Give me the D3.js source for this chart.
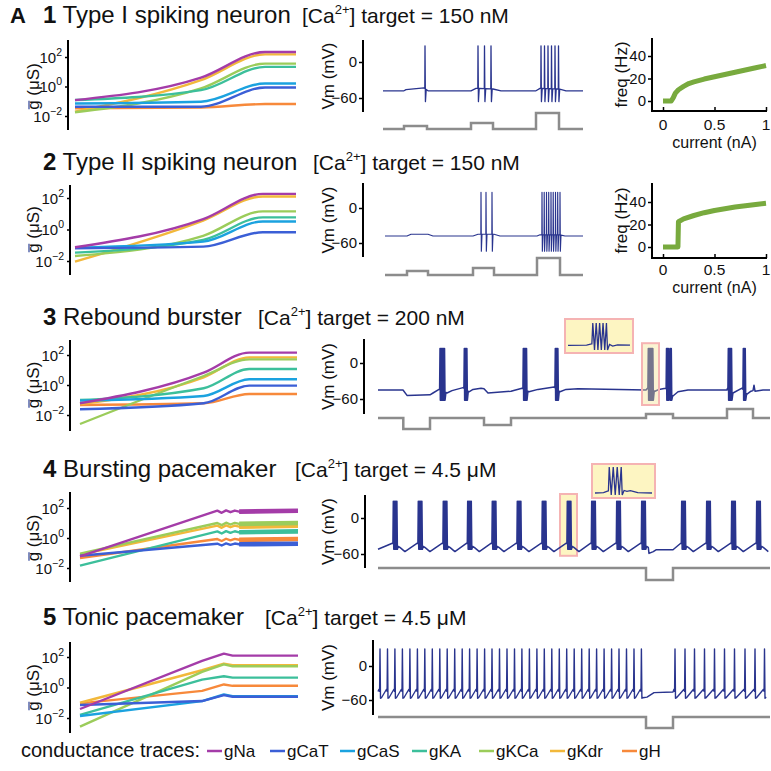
<!DOCTYPE html>
<html><head><meta charset="utf-8">
<script src="https://cdn.jsdelivr.net/npm/d3@7"></script>
<style>
body{margin:0;background:#fff}
svg{display:block}
text{font-family:"Liberation Sans",Arial,Helvetica,sans-serif;fill:#111}
</style>
</head><body>
<svg id="fig" width="771" height="771"></svg>
<script>
// ================= DATA =================
const channelNames  = ["gNa","gCaT","gCaS","gKA","gKCa","gKdr","gH"];
const channelColors = ["#a43ca8","#3b5fd6","#1ba2df","#3cbf9b","#9bcc5a","#f2b83b","#f7893b"];

const rowNumbers = ["1","2","3","4","5"];
const rowTitles  = ["Type I spiking neuron","Type II spiking neuron","Rebound burster","Bursting pacemaker","Tonic pacemaker"];
const caTargets  = ["150 nM","150 nM","200 nM","4.5 \u03bcM","4.5 \u03bcM"];

const condTickExps = [-2, 0, 2];
// conductance traces: time (% of run) and log10(g) per channel (order = channelNames), null = not shown
const cond1Time = [0, 57, 86, 100];
const cond1 = [
  [-0.92, 0.60, 2.34, 2.34],
  [-1.37,-1.37,-0.07,-0.07],
  [-1.15,-1.03, 0.20, 0.20],
  [-0.92,-0.25, 1.33, 1.33],
  [-1.75,-0.13, 1.55, 1.55],
  [-1.70, 0.43, 2.18, 2.18],
  [-1.48,-1.42,-1.19,-1.19]
];
const cond2Time = [0, 58, 85, 100];
const cond2 = [
  [-1.13, 0.66, 2.26, 2.26],
  [-1.19,-1.09,-0.17,-0.17],
  [-1.15,-0.77, 0.51, 0.51],
  [-1.47,-0.66, 0.77, 0.77],
  [-1.68,-0.40, 1.15, 1.15],
  [-2.04, 0.57, 2.10, 2.10],
  null
];
const cond3Time = [0, 57, 78, 100];
const cond3 = [
  [-1.22, 0.82, 2.16, 2.16],
  [-1.62,-1.22,-0.04,-0.04],
  [-1.04,-0.73, 0.38, 0.38],
  [-1.00,-0.22, 1.07, 1.07],
  [-2.60, 0.60, 1.71, 1.71],
  [-1.27, 0.51, 1.84, 1.84],
  [-1.33,-1.22,-0.60,-0.60]
];
const cond4Time = [0, 63, 65, 67, 69, 71, 73, 100];
const cond4 = [
  [-1.22, 1.82, 1.68, 1.84, 1.72, 1.83, 1.76, 1.82],
  [-1.18,-0.38,-0.50,-0.36,-0.46,-0.37,-0.42,-0.38],
  null,
  [-1.84, 0.44, 0.30, 0.46, 0.34, 0.45, 0.38, 0.44],
  [-1.04, 1.00, 0.86, 1.02, 0.90, 1.01, 0.94, 1.00],
  [-1.11, 0.82, 0.68, 0.84, 0.72, 0.83, 0.76, 0.82],
  [-1.33,-0.07,-0.20,-0.05,-0.16,-0.06,-0.12,-0.07]
];
const cond4Band = [73, 100];
const cond5Time = [0, 56, 66, 70, 100];
const cond5 = [
  [-1.41, 1.74, 2.22, 2.09, 2.09],
  [-1.15,-0.89,-0.50,-0.61,-0.61],
  [-1.87,-0.89,-0.46,-0.57,-0.57],
  [-1.80, 0.52, 0.74, 0.65, 0.65],
  [-2.57, 1.02, 1.52, 1.39, 1.39],
  [-1.00, 1.13, 1.57, 1.46, 1.46],
  [-1.04,-0.22, 0.20, 0.11, 0.11]
];

// membrane potential: time in s, voltage in mV
const vmTicks = [0, -60];
const vmDuration = [20, 19.8, 39.2, 39.2, 39.2];
const vmPeak   = [27, 27, 24, 28, 30];
const vmTrough = [-66, -74, -62, -52, -57];

const vmBase1 = [[0,-48],[2.1,-48],[2.3,-46],[4.1,-43],[4.5,-48],[8.8,-48],[9.3,-44],[11.0,-45],[11.8,-48],[15.3,-48],[15.7,-44],[17.6,-45],[18.3,-48],[20,-48]];
const vmSpikes1 = [4.2, 9.5, 10.15, 10.8, 15.8, 16.15, 16.5, 16.85, 17.2, 17.55];
const curSteps1 = [[2.1,4.4,0.10],[8.8,11.0,0.20],[15.3,17.6,0.53]];

const vmBase2 = [[0,-48],[2.2,-48],[2.6,-45],[4.3,-45],[4.8,-48],[8.8,-48],[9.3,-45],[10.9,-45],[11.5,-48],[15.2,-48],[15.5,-46],[17.5,-46],[18.0,-48],[19.8,-48]];
const vmSpikes2 = [9.6, 10.1, 10.7, 15.7, 15.92, 16.15, 16.37, 16.6, 16.82, 17.05, 17.27, 17.5];
const curSteps2 = [[2.2,4.3,0.13],[8.8,10.9,0.23],[15.2,17.5,0.57]];

const vmBase3 = [[0,-45],[2.5,-45],[2.9,-54],[5.2,-53],[5.5,-50],[6.1,-44],[6.9,-50],[7.4,-46],[8.5,-41],
  [9.1,-48],[9.5,-44],[10.3,-42],[10.6,-43],[11.0,-50],[13.3,-47],[14.4,-42],[15.1,-48],[16.0,-44],[17.6,-40],
  [18.2,-48],[18.8,-44],[20,-43],[26.8,-45],[26.95,-42],[27.7,-47],[28.1,-44],[28.75,-42],[29.5,-55],[30,-48],
  [31,-45],[34.9,-45],[34.95,-42],[35.5,-50],[36.4,-42],[36.9,-52],[37.3,-47],[37.5,-46],[37.6,-37],[37.7,-47],
  [38.5,-45],[39.2,-45]];
const vmBursts3 = [[6.2,8],[8.63,5],[14.53,6],[17.73,5],[27.03,8],[28.85,4],[29.2,3],[35.03,6],[36.53,4]];
const curSteps3 = [[2.53,5.2,-0.37],[10.6,13.3,-0.23],[26.8,29.5,0.13],[34.9,37.5,0.30]];
const highlight3 = [26.4, 28.1, 33, -70];

const vmBursts4 = [1.53, 4.03, 6.53, 8.97, 11.43, 13.93, 16.43, 18.93, 21.37, 23.87, 26.37, 30.37, 32.87, 35.37, 37.87];
const vmHold4 = [[27.1,-59],[27.8,-53],[29.5,-53]];
const curSteps4 = [[26.8,29.5,-0.40]];
const highlight4 = [18.2, 19.9, 40, -63];

const vmSpikes5 = [0.2,0.95,1.69,2.44,3.19,3.94,4.68,5.43,6.18,6.92,7.67,8.42,9.16,9.91,10.66,11.4,12.15,12.9,
  13.65,14.39,15.14,15.89,16.63,17.38,18.13,18.87,19.62,20.37,21.12,21.86,22.61,23.36,24.1,24.85,25.6,26.34,
  29.7,30.7,31.65,32.65,33.65,34.65,35.65,36.7,37.7,38.65];
const vmHold5 = [[26.9,-55],[27.6,-47],[29.5,-46]];
const curSteps5 = [[26.8,29.5,-0.37]];

// insets (time normalised 0..1 over the inset)
const inset3Base = [[0,-48],[0.3,-47],[0.38,-43],[0.66,-44],[0.72,-50],[0.8,-46],[1,-47]];
const inset3Spikes = [0.40, 0.455, 0.51, 0.565, 0.62];
const inset4Base = [[0,-52],[0.15,-51],[0.23,-46],[0.5,-44],[0.56,-47],[0.62,-45],[0.75,-51],[1,-52]];
const inset4Spikes = [0.25, 0.32, 0.39, 0.46];

// f-I curves
const fiTicksY = [0, 20, 40];
const fiTicksX = [0, 0.5, 1];
const fiCurrent1 = [0, 0.08, 0.10, 0.12, 0.15, 0.20, 0.25, 0.30, 0.40, 0.50, 0.60, 0.70, 0.80, 0.90, 1.00];
const fiFreq1    = [0, 0,    3,    7,    10,   13,   15.5, 17,   19.5, 21.5, 23.5, 25.5, 27.5, 29.5, 31.5];
const fiCurrent2 = [0, 0.145, 0.15, 0.20, 0.30, 0.40, 0.50, 0.60, 0.70, 0.80, 0.90, 1.00];
const fiFreq2    = [0, 0,     22.5, 25,   28,   30.5, 32.5, 34,   35.5, 36.7, 37.8, 38.8];

// ================= LAYOUT =================
const layout = [
 {titleY:23, caX:302, curve:"smooth",
  cond:{ax:68, top:40, bot:130, y2:57, dec:14.75, x0:75, x1:296},
  vm:{ax:363, top:40, bot:112, y0:62, y60:98, x0:383, x1:583, cur:129, sw:1.3},
  fi:{ax:652, top:38, axY:111, right:767, y0:101, y40:56, x0:663, x1:766, tickY:130, labelY:148}},
 {titleY:170, caX:313, curve:"smooth",
  cond:{ax:70, top:185, bot:275, y2:198, dec:15.75, x0:75, x1:296},
  vm:{ax:363, top:183, bot:257, y0:208, y60:243, x0:385, x1:583, cur:275, sw:1.15},
  fi:{ax:652, top:183, axY:258, right:767, y0:247, y40:202, x0:663, x1:766, tickY:275, labelY:293}},
 {titleY:325, caX:258, curve:"smooth",
  cond:{ax:70, top:340, bot:431, y2:355, dec:15, x0:80, x1:297},
  vm:{ax:364, top:339, bot:414, y0:363, y60:399, x0:378, x1:770, cur:418, sw:1.5},
  inset:{x:565, y:319, w:68, h:34, tx0:568, tx1:630, vLo:-63, yLo:350, vHi:25, yHi:323}},
 {titleY:477, caX:295, curve:"linear",
  cond:{ax:70, top:492, bot:582, y2:508, dec:15, x0:80, x1:298},
  vm:{ax:365, top:495, bot:568, y0:518, y60:554, x0:378, x1:770, cur:568, sw:1.5},
  inset:{x:592, y:464, w:63, h:34, tx0:595, tx1:652, vLo:-58, yLo:495, vHi:25, yHi:467}},
 {titleY:625, caX:265, curve:"linear",
  cond:{ax:70, top:642, bot:733, y2:657, dec:15.25, x0:80, x1:298},
  vm:{ax:373, top:640, bot:715, y0:666, y60:700, x0:378, x1:770, cur:717, sw:1.4}}
];
const legendY = 757, legendLineX = [207, 270, 340, 412, 479, 550, 622];
const traceColor = "#29348e", currentColor = "#8c8c8c", fiColor = "#78aa3e";
const hlFill = "#fdf5c2", hlStroke = "#f5b3b3";

// ================= HELPERS =================
const svg = d3.select("#fig");

function interp(base, t){
  const i = d3.bisector(d=>d[0]).right(base, t);
  if (i <= 0) return base[0][1];
  if (i >= base.length) return base[base.length-1][1];
  const a = base[i-1], b = base[i];
  return a[1] + (b[1]-a[1])*(t-a[0])/(b[0]-a[0]);
}
function buildTrace(base, spikes, peak, trough, gapTh, pre, post){
  const s = spikes.slice().sort((a,b)=>a-b);
  const clusters = [];
  s.forEach(t=>{ const c = clusters[clusters.length-1]; if (c && t - c[c.length-1] < gapTh) c.push(t); else clusters.push([t]); });
  const pts = base.filter(p => !clusters.some(c => p[0] > c[0]-pre && p[0] < c[c.length-1]+post));
  clusters.forEach(c=>{
    pts.push([c[0]-pre, interp(base, c[0]-pre)]);
    c.forEach((t,i)=>{
      const half = i < c.length-1 ? (c[i+1]-t)/2 : post*0.35;
      pts.push([t, peak]); pts.push([t+half, trough]);
    });
    const e = c[c.length-1] + post;
    pts.push([e, interp(base, e)]);
  });
  pts.sort((a,b)=>a[0]-b[0]);
  return pts;
}
function burstSpikes(bursts, dt){
  const out = [];
  bursts.forEach(b => { for (let k=0;k<b[1];k++) out.push(b[0]+k*dt); });
  return out;
}
function rhythmBase(starts, ends, pre, post, holds, v0){
  const pts = [[0, v0]];
  starts.forEach((s,i)=>{
    pts.push([s-0.1, pre]);
    post.forEach(p => pts.push([ends[i]+p[0], p[1]]));
  });
  holds.forEach(h => pts.push(h));
  pts.sort((a,b)=>a[0]-b[0]);
  return pts;
}
function stepPoints(steps, T){
  const pts = [[0,0]];
  steps.forEach(s=>{ pts.push([s[0],0],[s[0],s[2]],[s[1],s[2]],[s[1],0]); });
  pts.push([T,0]);
  return pts;
}

function drawCond(L, times, vals, band){
  const C = L.cond;
  const x = d3.scaleLinear().domain([0,100]).range([C.x0, C.x1]);
  const y = d3.scaleLog().domain([1e-2, 1e2]).range([C.y2 + 4*C.dec, C.y2]);
  const g = svg.append("g");
  g.append("line").attr("x1",C.ax).attr("x2",C.ax).attr("y1",C.top).attr("y2",C.bot)
    .attr("stroke","#000").attr("stroke-width",2);
  const ax = g.append("g").attr("transform",`translate(${C.ax},0)`)
    .call(d3.axisLeft(y).tickValues(condTickExps.map(e=>Math.pow(10,e))).tickSize(3).tickFormat(""));
  ax.select(".domain").remove();
  ax.selectAll(".tick line").attr("stroke","#000").attr("stroke-width",1.5);
  ax.selectAll(".tick").each(function(d){
    const e = Math.round(Math.log10(d));
    const t = d3.select(this).append("text").attr("x",-6).attr("y",5)
      .attr("text-anchor","end").attr("font-size",15).attr("fill","#111");
    t.append("tspan").text("10");
    t.append("tspan").attr("dy",-7).attr("font-size",10.5).text(e < 0 ? "\u2212" + (-e) : String(e));
  });
  const cy = (C.y2 + C.y2 + 4*C.dec)/2;
  const lg = g.append("g").attr("transform",`translate(39,${cy}) rotate(-90)`);
  const lt = lg.append("text").attr("text-anchor","middle").attr("font-size",17).attr("fill","#111");
  lt.append("tspan").text("g");
  lt.append("tspan").text(" (\u03bcS)");
  const ex = lt.node().getExtentOfChar(0);
  lg.append("line").attr("x1",ex.x+0.5).attr("x2",ex.x+ex.width-0.5)
    .attr("y1",ex.y+5).attr("y2",ex.y+5).attr("stroke","#3b4fa0").attr("stroke-width",1.3);
  const line = d3.line().x(d=>x(d[0])).y(d=>y(Math.pow(10,d[1])))
    .curve(L.curve === "smooth" ? d3.curveMonotoneX : d3.curveLinear);
  const order = [6,5,4,3,2,1,0];
  order.forEach(ci=>{
    const v = vals[ci];
    if (!v) return;
    const pts = times.map((t,i)=>[t, v[i]]);
    g.append("path").attr("d", line(pts)).attr("fill","none")
      .attr("stroke", channelColors[ci]).attr("stroke-width",2.4).attr("stroke-linejoin","round");
    if (band){
      const bp = pts.filter(p=>p[0]>=band[0] && p[0]<=band[1]);
      g.append("path").attr("d", line(bp)).attr("fill","none")
        .attr("stroke", channelColors[ci]).attr("stroke-width",4.6);
    }
  });
}

function drawVm(L, T, trace, steps, hl, hlOnTop){
  const V = L.vm;
  const x = d3.scaleLinear().domain([0,T]).range([V.x0, V.x1]);
  const y = d3.scaleLinear().domain([-60,0]).range([V.y60, V.y0]);
  const yc = d3.scaleLinear().domain([0,1]).range([V.cur, V.cur-30]);
  const g = svg.append("g");
  g.append("line").attr("x1",V.ax).attr("x2",V.ax).attr("y1",V.top).attr("y2",V.bot)
    .attr("stroke","#000").attr("stroke-width",2);
  const ax = g.append("g").attr("transform",`translate(${V.ax},0)`)
    .call(d3.axisLeft(y).tickValues(vmTicks).tickSize(4).tickPadding(2).tickFormat(d3.format("d")));
  ax.select(".domain").remove();
  ax.selectAll(".tick line").attr("stroke","#000").attr("stroke-width",1.5);
  ax.selectAll(".tick text").attr("font-size",15).attr("fill","#111")
    .attr("font-family",'"Liberation Sans",Arial,sans-serif');
  g.append("text").attr("transform",`translate(334,${(V.top+V.bot)/2}) rotate(-90)`)
    .attr("text-anchor","middle").attr("font-size",17).text("Vm (mV)");
  const addHl = () => {
    if (!hl) return;
    g.append("rect").attr("x",x(hl[0])).attr("y",y(hl[2])).attr("width",x(hl[1])-x(hl[0]))
      .attr("height",y(hl[3])-y(hl[2])).attr("fill",hlOnTop ? "#f3e08a" : hlFill).attr("fill-opacity", hlOnTop?0.38:1)
      .attr("stroke",hlStroke).attr("stroke-width",2);
  };
  if (!hlOnTop) addHl();
  g.append("path").attr("d", d3.line().x(d=>x(d[0])).y(d=>y(d[1]))(trace))
    .attr("fill","none").attr("stroke",traceColor).attr("stroke-width",V.sw).attr("stroke-linejoin","round");
  if (hlOnTop) addHl();
  g.append("path").attr("d", d3.line().x(d=>x(d[0])).y(d=>yc(d[1]))(stepPoints(steps, T)))
    .attr("fill","none").attr("stroke",currentColor).attr("stroke-width",2.5);
}

function drawInset(I, base, spikes){
  svg.append("rect").attr("x",I.x).attr("y",I.y).attr("width",I.w).attr("height",I.h)
    .attr("fill",hlFill).attr("stroke",hlStroke).attr("stroke-width",2);
  const x = d3.scaleLinear().domain([0,1]).range([I.tx0, I.tx1]);
  const y = d3.scaleLinear().domain([I.vLo, I.vHi]).range([I.yLo, I.yHi]);
  const tr = buildTrace(base, spikes, I.vHi, I.vLo, 0.1, 0.015, 0.05);
  svg.append("path").attr("d", d3.line().x(d=>x(d[0])).y(d=>y(d[1]))(tr))
    .attr("fill","none").attr("stroke",traceColor).attr("stroke-width",1.3);
}

function drawFI(L, cur, freq){
  const F = L.fi;
  const x = d3.scaleLinear().domain([0,1]).range([F.x0, F.x1]);
  const y = d3.scaleLinear().domain([0,40]).range([F.y0, F.y40]);
  const g = svg.append("g");
  g.append("line").attr("x1",F.ax).attr("x2",F.ax).attr("y1",F.top).attr("y2",F.axY+1)
    .attr("stroke","#000").attr("stroke-width",2);
  g.append("line").attr("x1",F.ax-1).attr("x2",F.right).attr("y1",F.axY).attr("y2",F.axY)
    .attr("stroke","#000").attr("stroke-width",2);
  const ay = g.append("g").attr("transform",`translate(${F.ax},0)`)
    .call(d3.axisLeft(y).tickValues(fiTicksY).tickSize(4).tickPadding(2));
  ay.select(".domain").remove();
  ay.selectAll(".tick line").attr("stroke","#000").attr("stroke-width",1.5);
  ay.selectAll(".tick text").attr("font-size",15).attr("fill","#111")
    .attr("font-family",'"Liberation Sans",Arial,sans-serif');
  const axx = g.append("g").attr("transform",`translate(0,${F.axY})`)
    .call(d3.axisBottom(x).tickValues(fiTicksX).tickSize(-4).tickFormat(""));
  axx.select(".domain").remove();
  axx.selectAll(".tick line").attr("stroke","#000").attr("stroke-width",1.5);
  fiTicksX.forEach(v => g.append("text").attr("x",x(v)).attr("y",F.tickY).attr("text-anchor","middle")
    .attr("font-size",15.5).text(String(v)));
  g.append("text").attr("x",x(0.5)).attr("y",F.labelY).attr("text-anchor","middle").attr("font-size",16).text("current (nA)");
  g.append("text").attr("transform",`translate(627,${(F.top+F.axY)/2}) rotate(-90)`)
    .attr("text-anchor","middle").attr("font-size",17).text("freq (Hz)");
  g.append("path").attr("d", d3.line().x(d=>x(d[0])).y(d=>y(d[1]))(cur.map((c,i)=>[c,freq[i]])))
    .attr("fill","none").attr("stroke",fiColor).attr("stroke-width",5).attr("stroke-linejoin","round");
}

// ================= DRAW =================
svg.append("text").attr("x",10).attr("y",23).attr("font-size",22).attr("font-weight","bold").text("A");
layout.forEach((L,i)=>{
  const t = svg.append("text").attr("x",43).attr("y",L.titleY).attr("font-size",24);
  t.append("tspan").attr("font-weight","bold").text(rowNumbers[i]);
  t.append("tspan").text(" " + rowTitles[i]);
  const c = svg.append("text").attr("x",L.caX).attr("y",L.titleY).attr("font-size",21);
  c.append("tspan").text("[Ca");
  c.append("tspan").attr("font-size",13).attr("dy",-9).text("2+");
  c.append("tspan").attr("dy",9).text("] target = " + caTargets[i]);
});

drawCond(layout[0], cond1Time, cond1);
drawCond(layout[1], cond2Time, cond2);
drawCond(layout[2], cond3Time, cond3);
drawCond(layout[3], cond4Time, cond4, cond4Band);
drawCond(layout[4], cond5Time, cond5);

drawVm(layout[0], vmDuration[0], buildTrace(vmBase1, vmSpikes1, vmPeak[0], vmTrough[0], 0.15, 0.02, 0.12), curSteps1);
drawVm(layout[1], vmDuration[1], buildTrace(vmBase2, vmSpikes2, vmPeak[1], vmTrough[1], 0.15, 0.015, 0.1), curSteps2);
drawVm(layout[2], vmDuration[2], buildTrace(vmBase3, burstSpikes(vmBursts3, 0.065), vmPeak[2], vmTrough[2], 0.15, 0.04, 0.14), curSteps3, highlight3, true);

const b4Spikes = burstSpikes(vmBursts4.map(b=>[b,5]), 0.09);
const base4 = rhythmBase(vmBursts4, vmBursts4.map(b=>b+0.36), -42, [[0.3,-49],[0.8,-56]], vmHold4, -52);
drawVm(layout[3], vmDuration[3], buildTrace(base4, b4Spikes, vmPeak[3], vmTrough[3], 0.15, 0.04, 0.14), curSteps4, highlight4, false);

const base5 = rhythmBase(vmSpikes5, vmSpikes5, -41, [[0.15,-56]], vmHold5, -45);
drawVm(layout[4], vmDuration[4], buildTrace(base5, vmSpikes5, vmPeak[4], vmTrough[4], 0.1, 0.04, 0.14), curSteps5);

drawInset(layout[2].inset, inset3Base, inset3Spikes);
drawInset(layout[3].inset, inset4Base, inset4Spikes);

drawFI(layout[0], fiCurrent1, fiFreq1);
drawFI(layout[1], fiCurrent2, fiFreq2);

// legend
svg.append("text").attr("x",21).attr("y",legendY).attr("font-size",20).text("conductance traces:");
channelNames.forEach((n,i)=>{
  svg.append("line").attr("x1",legendLineX[i]).attr("x2",legendLineX[i]+15).attr("y1",legendY-6).attr("y2",legendY-6)
    .attr("stroke",channelColors[i]).attr("stroke-width",2.5);
  svg.append("text").attr("x",legendLineX[i]+17).attr("y",legendY).attr("font-size",17).text(n);
});
</script>
</body></html>
